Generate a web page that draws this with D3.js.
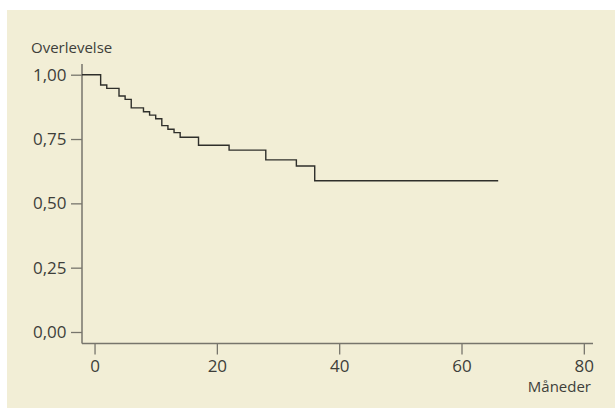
<!DOCTYPE html>
<html>
<head>
<meta charset="utf-8">
<script src="https://cdn.jsdelivr.net/npm/d3@7"></script>
<style>
  body { margin: 0; background: #fff; }
  svg { display: block; }
  text { font-family: "Open Sans", sans-serif; fill: #3e3e3a; }
</style>
</head>
<body>
<div id="chart"></div>
<script>
// survival data
const months = [0, 1, 2, 4, 5, 6, 8, 9, 10, 11, 12, 13, 14, 17, 22, 28, 33, 36, 66]
const survival = [1.00, 0.960, 0.947, 0.917, 0.904, 0.871, 0.856, 0.843, 0.829, 0.802, 0.788, 0.775, 0.757, 0.726, 0.707, 0.669, 0.645, 0.588, 0.588]

const yTicks = [0, 0.25, 0.5, 0.75, 1]
const xTicks = [0, 20, 40, 60, 80]
const yTitle = "Overlevelse"
const xTitle = "Måneder"

const W = 615, H = 409
const svg = d3.select("#chart").append("svg")
    .attr("width", W).attr("height", H)

// beige panel
svg.append("rect")
    .attr("x", 7).attr("y", 10)
    .attr("width", W - 7).attr("height", H - 11)
    .attr("fill", "#f2eed6")

const axisColor = "#77756c"
const labelColor = "#3e3e3a"
const axisX = 82, axisY = 343.5

const x = d3.scaleLinear().domain([-2.05, 81.5]).range([axisX, 593])
const y = d3.scaleLinear().domain([0, 1]).range([332, 74.7])

// y axis
const gy = svg.append("g")
    .attr("transform", `translate(${axisX},0)`)
    .call(d3.axisLeft(y).tickValues(yTicks).tickSize(11).tickPadding(4.5)
        .tickFormat(d => d3.format(".2f")(d).replace(".", ",")))
gy.select(".domain").remove()
gy.selectAll("line").attr("stroke", axisColor).attr("stroke-width", 1.3)
gy.selectAll("text").attr("font-size", 17).attr("fill", labelColor)
    .attr("font-family", "'Open Sans', sans-serif")
gy.append("line")
    .attr("x1", 0).attr("x2", 0)
    .attr("y1", 64).attr("y2", axisY)
    .attr("stroke", axisColor).attr("stroke-width", 1.5)

// x axis
const gx = svg.append("g")
    .attr("transform", `translate(0,${axisY})`)
    .call(d3.axisBottom(x).tickValues(xTicks).tickSize(11).tickPadding(5))
gx.select(".domain").remove()
gx.selectAll("line").attr("stroke", axisColor).attr("stroke-width", 1.3)
gx.selectAll("text").attr("font-size", 17).attr("fill", labelColor)
    .attr("font-family", "'Open Sans', sans-serif")
gx.append("line")
    .attr("x1", axisX).attr("x2", x.range()[1])
    .attr("y1", 0).attr("y2", 0)
    .attr("stroke", axisColor).attr("stroke-width", 1.5)

// titles
svg.append("text")
    .attr("x", 31).attr("y", 53)
    .attr("font-size", 15)
    .text(yTitle)
svg.append("text")
    .attr("x", 591).attr("y", 392)
    .attr("text-anchor", "end")
    .attr("font-size", 15)
    .text(xTitle)

// the step curve, starting at the y axis
const curve = [{t: x.domain()[0], s: survival[0]}]
    .concat(months.map((m, i) => ({t: m, s: survival[i]})))
svg.append("path")
    .datum(curve)
    .attr("fill", "none")
    .attr("stroke", "#2f2f2b")
    .attr("stroke-width", 1.4)
    .attr("d", d3.line()
        .curve(d3.curveStepAfter)
        .x(d => x(d.t))
        .y(d => y(d.s)))
</script>
</body>
</html>
